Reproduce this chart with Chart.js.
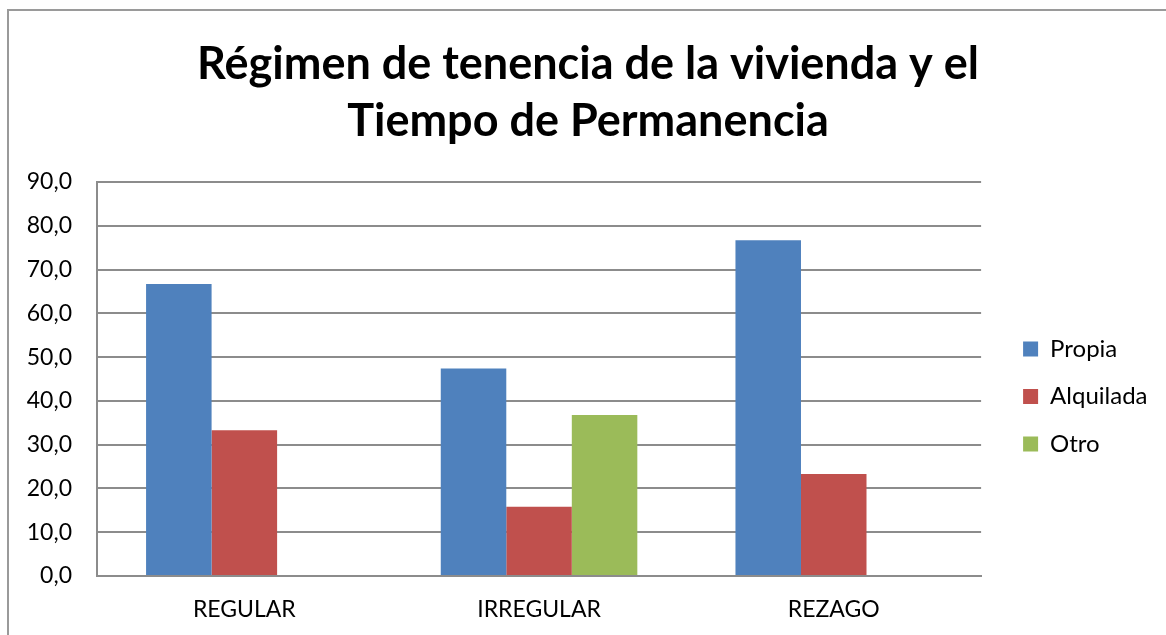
<!DOCTYPE html>
<html>
<head>
<meta charset="utf-8">
<script src="https://cdn.jsdelivr.net/npm/chart.js@4.4.1/dist/chart.umd.min.js"></script>
<style>
  html, body { margin: 0; padding: 0; background: #fff; }
  #wrap { position: relative; width: 1166px; height: 635px; overflow: hidden; }
  #frame { position: absolute; left: 7px; top: 9px; width: 1300px; height: 800px;
           border-left: 2px solid #9a9a9a; border-top: 2px solid #9a9a9a; pointer-events: none; }
  canvas { position: absolute; left: 0; top: 0; }
</style>
</head>
<body>
<div id="wrap">
  <canvas id="c" width="1166" height="635"></canvas>
  <div id="frame"></div>
</div>
<script>
const titleLines = ['Régimen de tenencia de la vivienda y el', 'Tiempo de Permanencia'];
const categories = ['REGULAR', 'IRREGULAR', 'REZAGO'];
const seriesNames = ['Propia', 'Alquilada', 'Otro'];
const propia = [66.7, 47.4, 76.7];
const alquilada = [33.3, 15.8, 23.3];
const otro = [null, 36.8, null];
const yMin = 0, yMax = 90, yStep = 10;
const colors = ['#4F81BD', '#C0504D', '#9BBB59'];

const FONT = 'Lato, "Noto Sans", sans-serif';
const LEG_PAD = 23.5;

const layoutTweak = {
  id: 'layoutTweak',
  afterLayout(chart) {
    const L = chart.legend;
    const a = chart.chartArea;
    const w = L.right - L.left;
    L.left = a.right + 42 - LEG_PAD;
    L.right = L.left + w;
    L.top = a.top + 131.5;
    L.bottom = chart.height;
    const T = chart.titleBlock;
    if (T) { T.left += 13.5; T.right += 13.5; }
  }
};

new Chart(document.getElementById('c'), {
  type: 'bar',
  data: {
    labels: categories,
    datasets: [
      { label: seriesNames[0], data: propia, backgroundColor: colors[0] },
      { label: seriesNames[1], data: alquilada, backgroundColor: colors[1] },
      { label: seriesNames[2], data: otro, backgroundColor: colors[2] }
    ]
  },
  options: {
    responsive: false,
    animation: false,
    layout: { padding: { left: 10, right: 27, top: 0, bottom: 0 } },
    datasets: { bar: { categoryPercentage: 0.667, barPercentage: 1.0, borderWidth: 0 } },
    plugins: {
      title: {
        display: true,
        text: titleLines,
        color: '#000',
        font: { family: FONT, size: 45, weight: 'bold', lineHeight: 57 / 45 },
        padding: { top: 36, bottom: 32 }
      },
      legend: {
        position: 'right',
        align: 'start',
        labels: {
          boxWidth: 15, boxHeight: 15, padding: LEG_PAD,
          color: '#000',
          font: { family: FONT, size: 24 }
        }
      },
      tooltip: { enabled: false }
    },
    scales: {
      x: {
        grid: { display: false, drawTicks: false },
        border: { display: true, color: '#8c8c8c', width: 2 },
        ticks: { color: '#000', font: { family: FONT, size: 23 }, padding: 20 },
        afterFit(s) { s.height = 59; }
      },
      y: {
        min: yMin, max: yMax,
        grid: { color: '#8c8c8c', lineWidth: 2, drawTicks: false },
        border: { display: true, color: '#8c8c8c', width: 2 },
        ticks: {
          stepSize: yStep,
          color: '#000',
          font: { family: FONT, size: 23 },
          padding: 25,
          callback: v => v.toFixed(1).replace('.', ',')
        },
        afterFit(s) { s.width = 87; }
      }
    }
  },
  plugins: [layoutTweak]
});
</script>
</body>
</html>
